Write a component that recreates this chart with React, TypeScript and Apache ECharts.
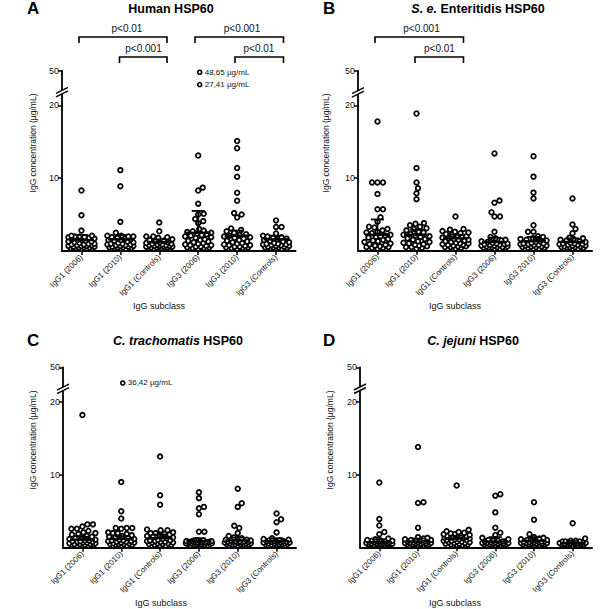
import React, { useEffect, useRef } from 'react';
import * as echarts from 'echarts';

const FONT = '"Liberation Sans", Arial, Helvetica, sans-serif';

const CATEGORIES = ['IgG1 (2006)', 'IgG1 (2010)', 'IgG1 (Controls)', 'IgG3 (2006)', 'IgG3 (2010)', 'IgG3 (Controls)'];
const CATEGORIES_B = ['IgG1 (2006)', 'IgG1 (2010)', 'IgG1 (Controls)', 'IgG3 (2006)', 'IgG3 2010)', 'IgG3 (Controls)'];
const Y_TICKS = [10, 20, 50];

// Panel A – Human HSP60
const A_IgG1_2006 = [8.3, 4.9, 2.8, 2.1, 2.1, 2.0, 2.0, 1.9, 1.9, 1.8, 1.7, 1.6, 1.5, 1.5, 1.4, 1.3, 1.3, 1.2, 1.1, 1.0, 1.0, 0.9, 0.9, 0.8, 0.8, 0.7, 0.7, 0.7, 0.6, 0.6, 0.5, 0.5, 0.5, 0.4, 0.4, 0.4, 0.3, 0.3];
const A_IgG1_2010 = [11.1, 8.9, 4.0, 2.5, 2.1, 2.1, 2.0, 2.0, 1.9, 1.8, 1.7, 1.6, 1.5, 1.5, 1.4, 1.3, 1.2, 1.1, 1.0, 1.0, 0.9, 0.9, 0.8, 0.8, 0.7, 0.7, 0.6, 0.6, 0.5, 0.5, 0.5, 0.4, 0.4, 0.3, 0.3];
const A_IgG1_Ctrl = [3.9, 2.7, 2.0, 2.0, 1.9, 1.8, 1.6, 1.5, 1.4, 1.3, 1.2, 1.2, 1.1, 1.0, 1.0, 0.9, 0.9, 0.8, 0.8, 0.7, 0.7, 0.7, 0.6, 0.6, 0.6, 0.5, 0.5, 0.5, 0.4, 0.4, 0.4, 0.3, 0.3, 0.3];
const A_IgG3_2006 = [13.1, 8.7, 8.3, 6.5, 5.1, 5.0, 4.4, 4.1, 3.8, 3.0, 2.8, 2.7, 2.6, 2.5, 2.4, 2.3, 2.2, 2.1, 2.0, 1.9, 1.8, 1.6, 1.5, 1.4, 1.3, 1.2, 1.1, 1.0, 0.9, 0.8, 0.8, 0.7, 0.6, 0.6, 0.5, 0.5, 0.4, 0.4, 0.3];
const A_IgG3_2010 = [15.1, 14.1, 11.4, 10.2, 8.0, 6.9, 5.2, 5.0, 4.6, 3.1, 2.9, 2.7, 2.5, 2.3, 2.2, 2.1, 2.0, 1.9, 1.8, 1.7, 1.5, 1.4, 1.3, 1.2, 1.1, 1.0, 0.9, 0.8, 0.8, 0.7, 0.6, 0.6, 0.5, 0.5, 0.4, 0.4, 0.3];
const A_IgG3_Ctrl = [4.2, 3.3, 3.3, 2.4, 2.1, 2.0, 1.9, 1.8, 1.7, 1.6, 1.5, 1.4, 1.3, 1.2, 1.1, 1.0, 1.0, 0.9, 0.9, 0.8, 0.8, 0.7, 0.7, 0.6, 0.6, 0.5, 0.5, 0.5, 0.4, 0.4, 0.3, 0.3];
const A_MEAN = [1.5, 1.6, 1.2, 2.5, 2.1, 1.6];
const A_UPPER = [2.2, 2.2, 1.6, 5.5, 2.8, 2.1];
const A_OFFSCALE = [48.65, 27.41];

// Panel B – S. e. Enteritidis HSP60
const B_IgG1_2006 = [17.8, 9.4, 9.4, 9.4, 7.8, 5.7, 5.7, 4.6, 4.0, 3.3, 3.2, 3.0, 2.8, 2.6, 2.5, 2.4, 2.2, 2.1, 2.0, 1.9, 1.8, 1.6, 1.5, 1.4, 1.3, 1.2, 1.0, 0.9, 0.8, 0.7, 0.6, 0.5, 0.5, 0.4, 0.4, 0.3];
const B_IgG1_2010 = [18.9, 11.4, 9.4, 8.6, 7.9, 7.1, 3.8, 3.7, 3.5, 3.3, 3.1, 3.0, 2.8, 2.6, 2.5, 2.3, 2.2, 2.1, 2.0, 1.9, 1.7, 1.6, 1.5, 1.3, 1.2, 1.1, 1.0, 0.9, 0.8, 0.7, 0.6, 0.5, 0.5, 0.4, 0.3];
const B_IgG1_Ctrl = [4.7, 3.0, 2.9, 2.7, 2.6, 2.5, 2.4, 2.3, 2.2, 2.1, 2.0, 1.9, 1.8, 1.7, 1.6, 1.5, 1.5, 1.4, 1.3, 1.2, 1.1, 1.0, 1.0, 0.9, 0.8, 0.8, 0.7, 0.6, 0.6, 0.5, 0.5, 0.4, 0.3];
const B_IgG3_2006 = [13.4, 6.9, 6.6, 5.3, 4.7, 4.7, 2.6, 1.9, 1.7, 1.5, 1.4, 1.3, 1.2, 1.1, 1.0, 1.0, 0.9, 0.9, 0.8, 0.8, 0.7, 0.7, 0.6, 0.6, 0.5, 0.5, 0.5, 0.4, 0.4, 0.4, 0.3, 0.3];
const B_IgG3_2010 = [13.0, 10.2, 8.0, 7.2, 3.5, 2.6, 2.6, 2.0, 1.9, 1.7, 1.6, 1.5, 1.4, 1.3, 1.2, 1.1, 1.0, 1.0, 0.9, 0.9, 0.8, 0.8, 0.7, 0.7, 0.6, 0.6, 0.5, 0.5, 0.4, 0.4, 0.3, 0.3];
const B_IgG3_Ctrl = [7.2, 3.6, 3.0, 2.4, 1.8, 1.7, 1.6, 1.5, 1.4, 1.3, 1.2, 1.1, 1.0, 1.0, 0.9, 0.9, 0.8, 0.8, 0.7, 0.7, 0.6, 0.6, 0.5, 0.5, 0.5, 0.4, 0.4, 0.3, 0.3];
const B_MEAN = [2.2, 2.2, 1.7, 1.2, 1.3, 1.2];
const B_UPPER = [4.3, 2.9, 2.2, 1.8, 1.9, 1.7];

// Panel C – C. trachomatis HSP60
const C_IgG1_2006 = [18.2, 3.2, 3.2, 2.9, 2.6, 2.6, 2.3, 2.1, 2.0, 1.9, 1.8, 1.6, 1.5, 1.4, 1.3, 1.2, 1.1, 1.0, 1.0, 0.9, 0.9, 0.8, 0.8, 0.7, 0.7, 0.6, 0.6, 0.5, 0.5, 0.5, 0.4, 0.4, 0.4, 0.3, 0.3, 0.3];
const C_IgG1_2010 = [9.0, 5.0, 4.0, 2.7, 2.7, 2.7, 2.6, 2.1, 2.0, 2.0, 1.9, 1.7, 1.6, 1.5, 1.4, 1.3, 1.2, 1.1, 1.0, 1.0, 0.9, 0.9, 0.8, 0.8, 0.7, 0.7, 0.6, 0.6, 0.5, 0.5, 0.5, 0.4, 0.4, 0.3, 0.3];
const C_IgG1_Ctrl = [12.5, 7.2, 5.9, 2.5, 2.4, 2.4, 2.1, 2.0, 2.0, 1.9, 1.8, 1.7, 1.6, 1.5, 1.4, 1.3, 1.2, 1.1, 1.0, 1.0, 0.9, 0.9, 0.8, 0.8, 0.7, 0.7, 0.6, 0.6, 0.5, 0.5, 0.4, 0.4, 0.3, 0.3];
const C_IgG3_2006 = [7.6, 6.8, 5.6, 5.4, 4.6, 2.2, 2.2, 1.0, 1.0, 1.0, 0.9, 0.9, 0.9, 0.8, 0.8, 0.8, 0.8, 0.7, 0.7, 0.7, 0.7, 0.6, 0.6, 0.6, 0.6, 0.5, 0.5, 0.5, 0.5, 0.4, 0.4, 0.4];
const C_IgG3_2010 = [8.1, 6.1, 5.6, 3.0, 2.7, 2.0, 1.6, 1.4, 1.3, 1.2, 1.1, 1.1, 1.0, 1.0, 0.9, 0.9, 0.9, 0.8, 0.8, 0.8, 0.7, 0.7, 0.7, 0.6, 0.6, 0.6, 0.5, 0.5, 0.5, 0.4, 0.4, 0.4, 0.3];
const C_IgG3_Ctrl = [4.7, 3.9, 3.5, 2.1, 1.3, 1.2, 1.1, 1.0, 1.0, 0.9, 0.9, 0.9, 0.8, 0.8, 0.8, 0.7, 0.7, 0.7, 0.6, 0.6, 0.6, 0.5, 0.5, 0.5, 0.4, 0.4, 0.4];
const C_MEAN = [1.1, 1.2, 1.3, 0.9, 1.0, 0.9];
const C_UPPER = [1.5, 1.6, 1.8, 1.3, 1.4, 1.3];
const C_OFFSCALE = [36.42];

// Panel D – C. jejuni HSP60
const D_IgG1_2006 = [8.9, 3.9, 3.0, 2.1, 1.8, 1.2, 1.1, 1.0, 1.0, 0.9, 0.9, 0.8, 0.8, 0.8, 0.7, 0.7, 0.7, 0.6, 0.6, 0.6, 0.5, 0.5, 0.5, 0.5, 0.4, 0.4, 0.4, 0.3, 0.3, 0.3];
const D_IgG1_2010 = [13.8, 6.2, 6.1, 2.7, 1.4, 1.3, 1.2, 1.1, 1.0, 1.0, 0.9, 0.9, 0.8, 0.8, 0.8, 0.7, 0.7, 0.7, 0.6, 0.6, 0.6, 0.5, 0.5, 0.5, 0.4, 0.4, 0.4, 0.3, 0.3];
const D_IgG1_Ctrl = [8.5, 2.4, 2.2, 2.1, 2.0, 1.9, 1.8, 1.8, 1.7, 1.6, 1.6, 1.5, 1.4, 1.4, 1.3, 1.3, 1.2, 1.2, 1.1, 1.1, 1.0, 1.0, 0.9, 0.9, 0.8, 0.8, 0.7, 0.7, 0.6, 0.6, 0.5, 0.5, 0.4, 0.4, 0.3, 0.3];
const D_IgG3_2006 = [7.3, 7.1, 4.8, 2.7, 2.0, 1.7, 1.3, 1.1, 1.0, 0.9, 0.9, 0.8, 0.8, 0.8, 0.7, 0.7, 0.7, 0.6, 0.6, 0.6, 0.5, 0.5, 0.5, 0.4, 0.4, 0.4, 0.3, 0.3];
const D_IgG3_2010 = [6.2, 3.8, 1.8, 1.4, 1.3, 1.2, 1.1, 1.0, 1.0, 0.9, 0.9, 0.8, 0.8, 0.8, 0.7, 0.7, 0.7, 0.6, 0.6, 0.6, 0.5, 0.5, 0.5, 0.4, 0.4, 0.4, 0.3, 0.3];
const D_IgG3_Ctrl = [3.3, 1.2, 0.9, 0.9, 0.8, 0.8, 0.8, 0.7, 0.7, 0.7, 0.6, 0.6, 0.6, 0.5, 0.5, 0.5, 0.5, 0.4, 0.4, 0.4, 0.3, 0.3];
const D_MEAN = [0.7, 0.8, 1.2, 0.8, 0.9, 0.6];
const D_UPPER = [1.1, 1.2, 1.6, 1.4, 1.4, 0.9];

// broken axis: 0–20 linear, 20–50 compressed
const BREAK_AT = 20;
const BREAK_TOP = 50;
const BREAK_SPAN = 4.75;
const disp = (v: number) => (v <= BREAK_AT ? v : BREAK_AT + ((v - BREAK_AT) / (BREAK_TOP - BREAK_AT)) * BREAK_SPAN);
const Y_MAX = disp(BREAK_TOP);
const BREAK_MARK = 21.8;

type Bracket = { x1: number; x2: number; y: number; text: string; tx: number };

const PANELS = [
  {
    letter: 'A', title: '{b|Human HSP60}', titleX: 171, titleY: 9, letterX: 27, letterY: 8,
    cats: CATEGORIES, groups: [A_IgG1_2006, A_IgG1_2010, A_IgG1_Ctrl, A_IgG3_2006, A_IgG3_2010, A_IgG3_Ctrl],
    mean: A_MEAN, upper: A_UPPER, offscale: A_OFFSCALE, offCat: 3,
    grid: { left: 62, top: 70.7, width: 233.5, height: 180.3 },
    yNameX: 33, yNameY: 143, xNameX: 159, xNameY: 306,
    brackets: [
      { x1: 79, x2: 167, y: 37, text: 'p<0.01', tx: 127 },
      { x1: 119.5, x2: 167, y: 57, text: 'p<0.001', tx: 143.5 },
      { x1: 195, x2: 283.5, y: 37, text: 'p<0.001', tx: 242 },
      { x1: 235, x2: 283.5, y: 57, text: 'p<0.01', tx: 259 },
    ] as Bracket[],
  },
  {
    letter: 'B', title: '{i|S. e.} {b|Enteritidis HSP60}', titleX: 478, titleY: 9, letterX: 323, letterY: 8,
    cats: CATEGORIES_B, groups: [B_IgG1_2006, B_IgG1_2010, B_IgG1_Ctrl, B_IgG3_2006, B_IgG3_2010, B_IgG3_Ctrl],
    mean: B_MEAN, upper: B_UPPER, offscale: [] as number[], offCat: 0,
    grid: { left: 358, top: 71, width: 234, height: 179.7 },
    yNameX: 326, yNameY: 143, xNameX: 455, xNameY: 306,
    brackets: [
      { x1: 375, x2: 463.5, y: 37, text: 'p<0.001', tx: 421.5 },
      { x1: 415, x2: 463.5, y: 57, text: 'p<0.01', tx: 439.5 },
    ] as Bracket[],
  },
  {
    letter: 'C', title: '{i|C. trachomatis} {b|HSP60}', titleX: 178, titleY: 341, letterX: 27, letterY: 340,
    cats: CATEGORIES, groups: [C_IgG1_2006, C_IgG1_2010, C_IgG1_Ctrl, C_IgG3_2006, C_IgG3_2010, C_IgG3_Ctrl],
    mean: C_MEAN, upper: C_UPPER, offscale: C_OFFSCALE, offCat: 1,
    grid: { left: 63, top: 367.3, width: 233, height: 180.4 },
    yNameX: 33, yNameY: 440, xNameX: 161, xNameY: 603,
    brackets: [] as Bracket[],
  },
  {
    letter: 'D', title: '{i|C. jejuni} {b|HSP60}', titleX: 473, titleY: 341, letterX: 323, letterY: 340,
    cats: CATEGORIES, groups: [D_IgG1_2006, D_IgG1_2010, D_IgG1_Ctrl, D_IgG3_2006, D_IgG3_2010, D_IgG3_Ctrl],
    mean: D_MEAN, upper: D_UPPER, offscale: [] as number[], offCat: 0,
    grid: { left: 360, top: 367.3, width: 232, height: 180 },
    yNameX: 330, yNameY: 440, xNameX: 455, xNameY: 603,
    brackets: [] as Bracket[],
  },
];

// beeswarm horizontal layout (pixel offsets) computed from the values
function swarm(values: number[], pxPerUnit: number): number[] {
  const D = 5.2;
  const MAX = 13;
  const order = values.map((_, i) => i).sort((a, b) => values[a] - values[b]);
  const placed: { x: number; y: number }[] = [];
  const off = new Array(values.length).fill(0);
  const cands: number[] = [0];
  for (let k = 0.5; k <= MAX; k += 0.5) cands.push(k, -k);
  for (const i of order) {
    const y = disp(values[i]) * pxPerUnit;
    let best = 0;
    let bestScore = -Infinity;
    for (const c of cands) {
      let minD = Infinity;
      for (const p of placed) {
        const dy = p.y - y;
        if (Math.abs(dy) >= D) continue;
        const d = Math.hypot(p.x - c, dy);
        if (d < minD) minD = d;
      }
      if (minD >= D) { best = c; break; }
      if (minD > bestScore + 0.01) { bestScore = minD; best = c; }
    }
    off[i] = best;
    placed.push({ x: best, y });
  }
  return off;
}

const tickLabel = (v: number) => {
  const t = Y_TICKS.find((t) => Math.abs(disp(t) - v) < 0.01);
  return t === undefined ? '' : String(t);
};

export default function App() {
  const ref = useRef<HTMLDivElement>(null);
  useEffect(() => {
    if (!ref.current) return;
    const chart = echarts.init(ref.current, null, { renderer: 'svg' });

    const grids: any[] = [];
    const xAxes: any[] = [];
    const yAxes: any[] = [];
    const series: any[] = [];
    const graphics: any[] = [];

    PANELS.forEach((p, pi) => {
      grids.push({ left: p.grid.left, top: p.grid.top, width: p.grid.width, height: p.grid.height, containLabel: false });
      xAxes.push({
        gridIndex: pi, type: 'category', data: p.cats, boundaryGap: true,
        axisLine: { show: true, lineStyle: { color: '#000', width: 2 } },
        axisTick: { show: true, alignWithLabel: true, length: 4, lineStyle: { color: '#000', width: 1.5 } },
        axisLabel: { rotate: 45, interval: 0, fontSize: 8, color: '#111', margin: 5, fontFamily: FONT },
        splitLine: { show: false },
      });
      const tickVals = Y_TICKS.map(disp);
      yAxes.push({
        gridIndex: pi, type: 'value', min: 0, max: Y_MAX,
        axisLine: { show: true, onZero: false, lineStyle: { color: '#000', width: 1.8 } },
        axisTick: { show: true, length: 4, customValues: tickVals, lineStyle: { color: '#000', width: 1.5 } },
        axisLabel: { customValues: tickVals, formatter: tickLabel, fontSize: 9, color: '#111', margin: 3, fontFamily: FONT },
        splitLine: { show: false },
      });

      const pxPerUnit = p.grid.height / Y_MAX;
      const dots: number[][] = [];
      p.groups.forEach((vals, ci) => {
        const offs = swarm(vals, pxPerUnit);
        vals.forEach((v, k) => dots.push([ci, disp(v), offs[k]]));
      });
      dots.sort((a, b) => a[1] - b[1]);
      series.push({
        type: 'custom', xAxisIndex: pi, yAxisIndex: pi, data: dots, z: 2, clip: false,
        renderItem: (_params: any, api: any) => {
          const c = api.coord([api.value(0), api.value(1)]);
          return {
            type: 'circle',
            shape: { cx: c[0] + api.value(2), cy: c[1], r: 2.3 },
            style: { fill: '#fff', stroke: '#000', lineWidth: 1.8 },
          };
        },
      });
      series.push({
        type: 'custom', xAxisIndex: pi, yAxisIndex: pi, z: 3, clip: false,
        data: p.mean.map((m, ci) => [ci, disp(m), disp(p.upper[ci])]),
        renderItem: (_params: any, api: any) => {
          const c = api.coord([api.value(0), api.value(1)]);
          const u = api.coord([api.value(0), api.value(2)]);
          return {
            type: 'group',
            children: [
              { type: 'line', shape: { x1: c[0] - 12.5, y1: c[1], x2: c[0] + 12.5, y2: c[1] }, style: { stroke: '#000', lineWidth: 2.4 } },
              { type: 'line', shape: { x1: c[0], y1: c[1], x2: c[0], y2: u[1] }, style: { stroke: '#000', lineWidth: 1.8 } },
              { type: 'line', shape: { x1: c[0] - 6.5, y1: u[1], x2: c[0] + 6.5, y2: u[1] }, style: { stroke: '#000', lineWidth: 1.8 } },
            ],
          };
        },
      });
      if (p.offscale.length) {
        const first = disp(Math.max(...p.offscale));
        series.push({
          type: 'custom', xAxisIndex: pi, yAxisIndex: pi, z: 3, clip: false,
          data: p.offscale.map((v, r) => [p.offCat, first, r, v]),
          renderItem: (_params: any, api: any) => {
            const c = api.coord([api.value(0), api.value(1)]);
            const y = c[1] + api.value(2) * 12.3;
            const label = Number(api.value(3)).toFixed(2).replace('.', ',') + ' µg/mL';
            return {
              type: 'group',
              children: [
                { type: 'circle', shape: { cx: c[0] + 1.5, cy: y, r: 2 }, style: { fill: '#fff', stroke: '#000', lineWidth: 1.6 } },
                { type: 'text', x: c[0] + 6.5, y, style: { text: label, fontSize: 8, fontFamily: FONT, fill: '#111', align: 'left', verticalAlign: 'middle' } },
              ],
            };
          },
        });
      }

      graphics.push({
        type: 'text', x: p.letterX, y: p.letterY,
        style: { text: p.letter, fontSize: 17, fontWeight: 'bold', fontFamily: FONT, fill: '#000', align: 'left', verticalAlign: 'middle' },
      });
      graphics.push({
        type: 'text', x: p.titleX, y: p.titleY,
        style: {
          text: p.title, align: 'center', verticalAlign: 'middle', fontSize: 12.5, fontWeight: 'bold', fontFamily: FONT, fill: '#000',
          rich: {
            b: { fontSize: 12.5, fontWeight: 'bold', fontFamily: FONT, fill: '#000' },
            i: { fontSize: 12.5, fontWeight: 'bold', fontStyle: 'italic', fontFamily: FONT, fill: '#000' },
          },
        },
      });
      graphics.push({
        type: 'text', x: p.yNameX, y: p.yNameY, rotation: Math.PI / 2,
        style: { text: 'IgG concentration (µg/mL)', fontSize: 8.5, fontFamily: FONT, fill: '#111', align: 'center', verticalAlign: 'middle' },
      });
      graphics.push({
        type: 'text', x: p.xNameX, y: p.xNameY,
        style: { text: 'IgG subclass', fontSize: 9, fontFamily: FONT, fill: '#111', align: 'center', verticalAlign: 'middle' },
      });
      const bx = p.grid.left;
      const by = p.grid.top + ((Y_MAX - BREAK_MARK) / Y_MAX) * p.grid.height;
      graphics.push({
        type: 'polygon',
        shape: { points: [[bx - 6, by + 1.25], [bx + 6, by - 4.75], [bx + 6, by - 1.25], [bx - 6, by + 4.75]] },
        style: { fill: '#fff', stroke: 'none' },
        z: 10,
      });
      graphics.push({ type: 'line', shape: { x1: bx - 6, y1: by + 1.25, x2: bx + 6, y2: by - 4.75 }, style: { stroke: '#000', lineWidth: 1.5 }, z: 11 });
      graphics.push({ type: 'line', shape: { x1: bx - 6, y1: by + 4.75, x2: bx + 6, y2: by - 1.25 }, style: { stroke: '#000', lineWidth: 1.5 }, z: 11 });
      p.brackets.forEach((b) => {
        graphics.push({
          type: 'polyline',
          shape: { points: [[b.x1, b.y + 6], [b.x1, b.y], [b.x2, b.y], [b.x2, b.y + 6]] },
          style: { stroke: '#000', lineWidth: 1.6, fill: 'none' },
        });
        graphics.push({
          type: 'text', x: b.tx, y: b.y - 9,
          style: { text: b.text, fontSize: 10, fontFamily: FONT, fill: '#111', align: 'center', verticalAlign: 'middle' },
        });
      });
    });

    chart.setOption({
      animation: false,
      backgroundColor: '#fff',
      grid: grids,
      xAxis: xAxes,
      yAxis: yAxes,
      series,
      graphic: graphics,
    });
    return () => chart.dispose();
  }, []);
  return <div ref={ref} style={{ position: 'absolute', left: 0, top: 0, width: 600, height: 609 }} />;
}
